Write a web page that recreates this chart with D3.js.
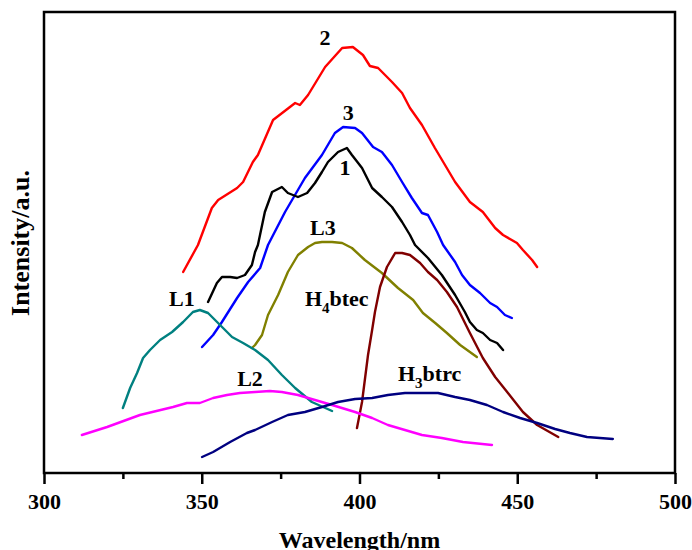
<!DOCTYPE html>
<html><head><meta charset="utf-8">
<script src="https://cdn.jsdelivr.net/npm/d3@7"></script>
<style>body{margin:0;background:#fff}svg{display:block}text{font-family:"Liberation Serif","Times New Roman",serif;font-weight:bold}</style>
</head><body><svg id="c" width="692" height="550"></svg>
<script>
// Wavelength (nm) and intensity (a.u.) for each curve
const wl2 = [344.1,348.8,353.2,355.2,361.2,363.1,366.2,367.8,372.6,379.6,381.1,383.7,389.1,394.5,397.9,401.1,403.3,405.9,410.3,413.5,416.0,419.8,423.9,430.3,435.0,439.1,443.0,445.5,449.9,451.8,454.7,456.3];
const in2 = [201,228,265,273,285,291,311,318,353,370,368,378,406,425,426,418,407,405,391,380,365,348,325,291,271,261,245,238,230,223,213,206];
const wl3 = [350.1,353.6,356.4,361.2,364.7,368.5,371.0,376.4,382.7,388.1,392.2,394.8,398.6,400.8,404.3,407.1,410.3,413.5,416.6,419.8,421.7,424.6,426.5,430.3,432.5,435.0,438.2,441.4,443.6,446.1,448.3];
const in3 = [126,138,151,175,191,205,228,261,295,318,340,346,345,340,326,321,308,291,275,260,258,241,228,211,198,188,180,170,166,158,155];
const wl1 = [352.0,354.8,356.4,359.0,361.2,363.7,365.9,366.9,367.8,370.0,372.3,375.4,377.3,380.5,383.4,385.9,388.1,390.0,393.2,396.0,397.6,400.8,404.0,407.1,410.3,413.5,416.0,417.6,421.7,426.1,430.3,433.4,435.0,437.2,439.1,441.4,443.6,445.5];
const in1 = [171,190,196,196,195,198,208,221,228,261,281,286,280,276,280,290,301,311,321,325,318,305,285,276,266,251,238,228,215,198,178,161,151,143,140,133,130,123];
const wlL3 = [365.9,366.9,369.1,371.0,374.2,377.3,380.5,383.7,385.9,388.1,391.3,394.5,397.6,401.7,407.1,412.2,417.0,420.1,424.0,427.7,431.9,437.2];
const inL3 = [125,128,138,158,178,201,218,226,230,231,231,230,225,213,200,185,173,160,150,140,128,116];
const wlH4 = [399.2,400.8,402.7,404.0,404.9,406.5,408.7,411.3,413.5,416.0,419.2,421.7,424.6,427.7,430.9,435.0,439.1,443.0,446.8,451.8,456.3,463.0];
const inH4 = [45,71,118,143,161,186,206,220,220,218,210,201,193,181,166,140,115,96,81,61,48,36];
const wlL1 = [325.0,327.3,329.5,331.4,333.6,336.8,340.6,344.1,347.2,349.4,352.0,355.8,359.6,363.1,366.9,371.0,375.4,379.6,384.9,391.3];
const inL1 = [65,85,100,115,123,133,141,151,161,163,160,148,136,130,123,113,98,85,71,62];
const wlL2 = [312.0,320.0,330.4,340.9,345.3,349.4,353.6,358.0,362.1,366.9,371.6,375.4,380.5,385.9,391.3,398.6,404.0,409.0,414.4,419.8,426.1,432.8,442.0];
const inL2 = [38,46,58,66,70,70,75,78,80,81,82,81,78,73,68,61,55,48,43,38,35,31,28];
const wlH3 = [350.1,353.6,359.0,364.3,366.9,372.3,377.3,382.7,388.1,393.2,398.6,404.0,409.0,414.4,419.8,424.9,430.3,435.0,440.4,445.5,450.9,456.3,462.0,466.7,472.1,480.3];
const inH3 = [16,21,31,40,43,51,58,61,66,71,74,75,78,80,80,80,76,73,68,61,55,50,44,40,36,34];

const xTicks = [300,350,400,450,500];
const xMinorTicks = [325,375,425,475];
const xTitle = "Wavelength/nm";
const yTitle = "Intensity/a.u.";

const series = [
  {name:"2", wl:wl2, val:in2, color:"#ff0000"},
  {name:"3", wl:wl3, val:in3, color:"#0000ff"},
  {name:"1", wl:wl1, val:in1, color:"#000000"},
  {name:"L3", wl:wlL3, val:inL3, color:"#808000"},
  {name:"H4btec", wl:wlH4, val:inH4, color:"#800000"},
  {name:"L1", wl:wlL1, val:inL1, color:"#008080"},
  {name:"L2", wl:wlL2, val:inL2, color:"#ff00ff"},
  {name:"H3btrc", wl:wlH3, val:inH3, color:"#000080"}
];

const L=44, R=675, T=12, B=473;
const svg = d3.select("#c");
const x = d3.scaleLinear().domain([300,500]).range([L,R]);
const y = d3.scaleLinear().domain([0,461]).range([B,T]);

const line = d3.line().x(d=>x(d[0])).y(d=>y(d[1]));
series.forEach(s=>{
  svg.append("path").datum(s.wl.map((w,i)=>[w,s.val[i]]))
    .attr("d",line).attr("fill","none").attr("stroke",s.color)
    .attr("stroke-width",2.4).attr("stroke-linejoin","round").attr("stroke-linecap","round");
});

// frame
svg.append("rect").attr("x",L).attr("y",T).attr("width",R-L).attr("height",B-T)
  .attr("fill","none").attr("stroke","#000").attr("stroke-width",2.5);

const ax = svg.append("g").attr("transform",`translate(0,${B})`)
  .call(d3.axisBottom(x).tickValues(xTicks).tickSize(11).tickPadding(9).tickFormat(d3.format("d")));
ax.select(".domain").remove();
ax.selectAll("line").attr("stroke-width",2.5);
ax.selectAll("text").attr("font-size",22).attr("fill","#000")
  .style("font-family","'Liberation Serif',serif").style("font-weight","bold");
const axm = svg.append("g").attr("transform",`translate(0,${B})`)
  .call(d3.axisBottom(x).tickValues(xMinorTicks).tickSize(6).tickFormat(""));
axm.select(".domain").remove();
axm.selectAll("line").attr("stroke-width",2.5);

svg.append("text").attr("x",(L+R)/2).attr("y",548).attr("text-anchor","middle")
  .attr("font-size",24).text(xTitle);
svg.append("text").attr("transform","translate(29,243) rotate(-90)").attr("text-anchor","middle")
  .attr("font-size",26).text(yTitle);

// curve labels
const lab = (t,w,v)=>svg.append("text").attr("x",x(w)).attr("y",y(v)).attr("text-anchor","middle").attr("font-size",22).text(t);
lab("2", 389.1, 428);
lab("3", 396.4, 353);
lab("1", 395.4, 298);
lab("L3", 388.4, 238);
lab("L1", 343.7, 167);
lab("L2", 365.3, 87);
function sub(base, s, rest, w, v){
  const t = svg.append("text").attr("x",x(w)).attr("y",y(v)).attr("font-size",22);
  t.append("tspan").text(base);
  t.append("tspan").attr("dy",7).attr("font-size",15).text(s);
  t.append("tspan").attr("dy",-7).text(rest);
}
sub("H","4","btec", 382.7, 167);
sub("H","3","btrc", 412.2, 92);
</script></body></html>
